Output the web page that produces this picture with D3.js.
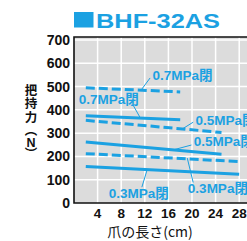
<!DOCTYPE html>
<html>
<head>
<meta charset="utf-8">
<script src="https://cdn.jsdelivr.net/npm/d3@7"></script>
<style>
  body { margin: 0; background: #fff; }
  text { font-family: "Liberation Sans", Arial, "Noto Sans CJK JP", sans-serif; }
</style>
</head>
<body>
<svg id="chart" width="247" height="241"></svg>
<script>
// values
const xTicks = [4, 8, 12, 16, 20, 24, 28];
const yTicks = [0, 100, 200, 300, 400, 500, 600, 700];

// each line: start and end point (claw length, grip force)
const series = [
  { name: '0.7MPa閉 dashed', dashed: true,  pts: [[2, 495], [18, 477]] },
  { name: '0.7MPa閉 solid',  dashed: false, pts: [[2, 375], [18, 358]] },
  { name: '0.5MPa閉 dashed', dashed: true,  pts: [[2, 355], [25, 303]] },
  { name: '0.5MPa閉 solid',  dashed: false, pts: [[2, 262], [25, 209]] },
  { name: '0.3MPa閉 dashed', dashed: true,  pts: [[2, 212], [28, 178]] },
  { name: '0.3MPa閉 solid',  dashed: false, pts: [[2, 157], [28, 123]] },
];

// callout labels with leader lines, in data units
const labels = [
  { text: '0.7MPa閉', x: 13.3, y: 528, lead: [[12.9, 537], [11.4, 486]] },
  { text: '0.7MPa閉', x: 0.8,  y: 425, lead: [[10.0, 421], [11.2, 367]] },
  { text: '0.5MPa閉', x: 20.6, y: 337, lead: [[20.2, 347], [18.3, 317]] },
  { text: '0.5MPa閉', x: 20.3, y: 243, lead: [[19.9, 249], [17.1, 230]] },
  { text: '0.3MPa閉', x: 5.9,  y: 20,  lead: [[11.5, 68],  [12.4, 143]] },
  { text: '0.3MPa閉', x: 19.3, y: 42,  lead: [[20.2, 88],  [19.2, 193]] },
];

const blue = '#1ba1e2';
const svg = d3.select('#chart');

const x = d3.scaleLinear().domain([0, 32]).range([74, 262.8]);
const y = d3.scaleLinear().domain([0, 700]).range([203, 40]);
const plotTop = 37;

// title
svg.append('rect')
  .attr('x', 74).attr('y', 12)
  .attr('width', 19.5).attr('height', 15.5)
  .attr('fill', blue);
svg.append('text')
  .attr('x', 96).attr('y', 27.5)
  .attr('textLength', 124)
  .attr('lengthAdjust', 'spacingAndGlyphs')
  .style('font-size', '21px')
  .style('font-weight', 'bold')
  .attr('fill', blue)
  .text('BHF-32AS');

// plot background
svg.append('rect')
  .attr('x', x(0)).attr('y', plotTop)
  .attr('width', x(32) - x(0)).attr('height', y(0) - plotTop)
  .attr('fill', '#dcdcdc');

// grid
svg.append('g')
  .selectAll('line')
  .data(xTicks.concat([32]))
  .enter().append('line')
  .attr('x1', d => x(d)).attr('x2', d => x(d))
  .attr('y1', plotTop).attr('y2', y(0))
  .attr('stroke', '#fff').attr('stroke-width', 1.5);
svg.append('g')
  .selectAll('line')
  .data(yTicks.filter(d => d > 0))
  .enter().append('line')
  .attr('x1', x(0)).attr('x2', x(32))
  .attr('y1', d => y(d)).attr('y2', d => y(d))
  .attr('stroke', '#fff').attr('stroke-width', 1.5);

// frame
svg.append('path')
  .attr('d', `M${x(32)},${plotTop}H${x(0)}V${y(0)}H${x(32)}`)
  .attr('fill', 'none')
  .attr('stroke', '#111')
  .attr('stroke-width', 1.6);

// y tick labels
svg.append('g')
  .selectAll('text')
  .data(yTicks)
  .enter().append('text')
  .attr('x', 70)
  .attr('y', d => y(d))
  .attr('dy', '0.36em')
  .attr('text-anchor', 'end')
  .style('font-size', '14px')
  .style('font-weight', 'bold')
  .attr('fill', '#111')
  .text(d => d);

// x tick labels
svg.append('g')
  .selectAll('text')
  .data(xTicks)
  .enter().append('text')
  .attr('x', d => x(d))
  .attr('y', 218)
  .attr('text-anchor', 'middle')
  .style('font-size', '13.5px')
  .style('font-weight', 'bold')
  .attr('fill', '#111')
  .text(d => d);

// axis titles
svg.append('text')
  .attr('x', 150).attr('y', 237)
  .attr('text-anchor', 'middle')
  .style('font-size', '14px')
  .style('font-family', '"Noto Sans CJK JP", sans-serif')
  .attr('fill', '#111')
  .text('爪の長さ(cm)');

const yTitle = ['把', '持', '力', '︵', 'N', '︶'];
const yTitlePos = [90, 103.5, 117, 130, 142, 153];
svg.append('g')
  .selectAll('text')
  .data(yTitle)
  .enter().append('text')
  .attr('x', 31)
  .attr('y', (d, i) => yTitlePos[i])
  .attr('dy', '0.36em')
  .attr('text-anchor', 'middle')
  .style('font-size', '12.5px')
  .style('font-weight', 'bold')
  .style('font-family', d => d === 'N' ? '"Liberation Sans", sans-serif' : '"Noto Sans CJK JP", sans-serif')
  .attr('fill', '#111')
  .text(d => d);

// data lines
const line = d3.line().x(d => x(d[0])).y(d => y(d[1]));
svg.append('g')
  .selectAll('path')
  .data(series)
  .enter().append('path')
  .attr('d', d => line(d.pts))
  .attr('fill', 'none')
  .attr('stroke', blue)
  .attr('stroke-width', 3)
  .attr('stroke-dasharray', d => d.dashed ? '9,4' : null);

// leader lines and labels
svg.append('g')
  .selectAll('path')
  .data(labels)
  .enter().append('path')
  .attr('d', d => line(d.lead))
  .attr('fill', 'none')
  .attr('stroke', blue)
  .attr('stroke-width', 1);

svg.append('g')
  .selectAll('text')
  .data(labels)
  .enter().append('text')
  .attr('x', d => x(d.x))
  .attr('y', d => y(d.y))
  .style('font-size', '13.5px')
  .style('font-weight', 'bold')
  .attr('fill', blue)
  .text(d => d.text);
</script>
</body>
</html>
